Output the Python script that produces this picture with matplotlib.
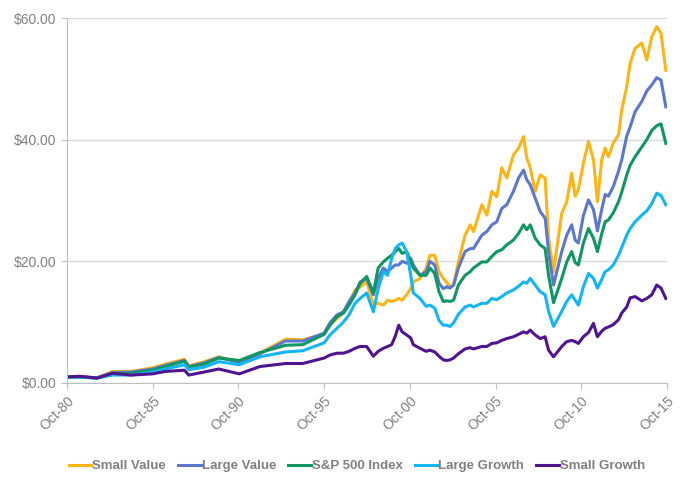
import matplotlib.pyplot as plt

# Data (growth of $1)
dates = [
    1980.75, 1981.5, 1982.5, 1983.4, 1984.5, 1985.75, 1986.5, 1987.6, 1987.85,
    1988.75, 1989.6, 1990.8, 1992.0, 1993.5, 1994.5, 1995.75,
    1996.09, 1996.5, 1996.87, 1997.2, 1997.55, 1997.85, 1998.23, 1998.62, 1998.9,
    1999.2, 1999.45, 1999.69, 1999.9, 2000.1, 2000.3, 2000.56, 2000.8, 2000.95,
    2001.34, 2001.7, 2001.92, 2002.2, 2002.45, 2002.7, 2002.9, 2003.09, 2003.3,
    2003.58, 2003.97, 2004.27, 2004.46, 2004.95, 2005.24, 2005.53, 2005.82, 2006.11,
    2006.4, 2006.79, 2007.09, 2007.38, 2007.57, 2007.77, 2008.06, 2008.35, 2008.64,
    2008.84, 2009.13,
    2009.61, 2009.9, 2010.19, 2010.39, 2010.58, 2010.87, 2011.17, 2011.46, 2011.69,
    2011.94, 2012.14, 2012.33, 2012.62, 2012.92, 2013.11, 2013.4, 2013.6, 2013.89,
    2014.28, 2014.57, 2014.86, 2015.15, 2015.4, 2015.68,
]
small_value = [
    1.0, 1.05, 0.85, 1.9, 1.9, 2.5, 3.1, 3.9, 2.8, 3.5, 4.3, 3.4, 4.9, 7.2, 7.1, 8.0,
    9.6, 10.6, 11.5, 13.1, 15.3, 15.8, 16.7, 12.8, 13.1, 12.8, 13.6, 13.4, 13.6,
    13.9, 13.6, 14.5, 15.5, 16.6, 17.2, 18.9, 21.0, 21.0, 18.3, 17.2, 16.5, 15.8, 16.1,
    19.9, 24.3, 26.0, 24.9, 29.3, 27.6, 31.5, 30.6, 35.4, 33.7, 37.5, 38.6, 40.5,
    37.0, 35.4, 31.5, 34.2, 33.7, 23.8, 18.3,
    27.9, 29.8, 34.5, 30.7, 31.8, 36.1, 39.7, 36.7, 29.8, 36.7, 38.6, 37.2, 39.5,
    40.8, 44.9, 48.7, 52.6, 55.0, 55.9, 53.1, 56.9, 58.6, 57.5, 51.4,
]
large_value = [
    1.0, 1.0, 0.85, 1.7, 1.8, 2.3, 2.9, 3.7, 2.7, 3.3, 4.2, 3.4, 4.8, 6.9, 6.9, 8.2,
    9.9, 11.2, 11.7, 13.4, 14.8, 16.6, 17.2, 14.5, 17.2, 18.9, 18.3, 18.9, 19.4,
    19.4, 20.0, 19.7, 20.5, 19.4, 17.7, 18.3, 20.0, 19.4, 16.4, 15.5, 15.8, 15.6, 16.1,
    18.9, 21.6, 22.1, 22.1, 24.3, 24.9, 26.0, 26.5, 28.7, 29.3, 31.5, 33.7, 35.0,
    33.4, 32.6, 30.4, 28.2, 27.1, 21.6, 16.1,
    21.6, 24.3, 26.0, 23.5, 23.0, 27.5, 30.1, 28.5, 25.0, 28.5, 31.0, 30.7, 32.3,
    34.8, 36.7, 40.6, 42.1, 44.6, 46.3, 48.0, 49.0, 50.2, 49.8, 45.4,
]
sp500 = [
    1.0, 0.95, 0.85, 1.5, 1.6, 2.1, 2.7, 3.6, 2.6, 3.1, 4.1, 3.7, 5.0, 6.2, 6.3, 8.0,
    9.5, 10.9, 11.5, 12.8, 14.5, 16.4, 17.5, 14.8, 18.9, 19.9, 20.5, 21.0, 21.6,
    22.1, 21.3, 21.6, 20.0, 18.9, 17.7, 17.7, 18.9, 18.0, 15.0, 13.4, 13.5, 13.4, 13.6,
    16.1, 17.7, 18.3, 18.9, 19.9, 19.9, 20.8, 21.6, 21.9, 22.7, 23.5, 24.6, 26.0,
    25.2, 26.0, 23.8, 22.7, 22.1, 17.7, 13.2,
    17.2, 19.9, 21.6, 19.8, 19.4, 23.0, 25.4, 23.8, 21.6, 24.5, 26.5, 26.8, 28.0,
    29.8, 31.4, 34.2, 35.8, 37.2, 38.8, 40.0, 41.5, 42.3, 42.6, 39.4,
]
large_growth = [
    1.0, 0.95, 0.8, 1.3, 1.3, 1.8, 2.3, 3.0, 2.2, 2.6, 3.5, 3.0, 4.3, 5.1, 5.3, 6.6,
    7.9, 9.0, 10.0, 11.2, 13.1, 13.9, 14.8, 11.7, 15.5, 18.3, 17.7, 20.5, 22.1,
    22.7, 23.0, 21.6, 17.7, 14.8, 13.9, 12.6, 12.8, 12.3, 10.3, 9.5, 9.5, 9.3, 9.9,
    11.3, 12.5, 12.8, 12.5, 13.1, 13.1, 13.9, 13.7, 14.2, 14.8, 15.3, 15.9, 16.6,
    16.4, 17.2, 16.1, 15.0, 14.5, 11.8, 9.3,
    11.8, 13.4, 14.5, 13.6, 12.8, 15.8, 18.0, 17.2, 15.6, 17.0, 18.3, 18.6, 19.4,
    21.0, 22.3, 24.3, 25.4, 26.5, 27.6, 28.3, 29.5, 31.2, 30.8, 29.3,
]
small_growth = [
    1.0, 1.1, 0.8, 1.6, 1.3, 1.5, 1.9, 2.1, 1.3, 1.8, 2.3, 1.5, 2.7, 3.2, 3.2, 4.1,
    4.6, 4.9, 4.9, 5.2, 5.7, 6.0, 6.0, 4.4, 5.2, 5.7, 6.0, 6.3, 7.7,
    9.5, 8.4, 7.9, 7.4, 6.3, 5.7, 5.2, 5.4, 5.1, 4.4, 3.8, 3.7, 3.8, 4.1,
    4.8, 5.6, 5.8, 5.6, 6.0, 6.0, 6.5, 6.6, 7.0, 7.3, 7.6, 8.0, 8.4,
    8.2, 8.7, 7.9, 7.3, 7.6, 5.4, 4.3,
    6.0, 6.8, 7.0, 6.8, 6.5, 7.6, 8.3, 9.8, 7.6, 8.5, 9.0, 9.2, 9.6,
    10.4, 11.5, 12.5, 14.0, 14.2, 13.5, 13.9, 14.5, 16.1, 15.6, 13.9,
]

labels = ["Small Value", "Large Value", "S&P 500 Index", "Large Growth", "Small Growth"]
colors = ["#FDB515", "#5B77CF", "#0E9760", "#12B5F5", "#4F1590"]
series = [small_value, large_value, sp500, large_growth, small_growth]

tick_pos = [1980.75 + 5 * i for i in range(8)]
tick_labels = ["Oct-80", "Oct-85", "Oct-90", "Oct-95", "Oct-00", "Oct-05", "Oct-10", "Oct-15"]

plt.rcParams["font.family"] = ["Liberation Sans", "DejaVu Sans"]
grey = "#808080"

fig = plt.figure(figsize=(6.93, 4.95), dpi=100)
ax = fig.add_axes([0.0967, 0.2263, 0.8658, 0.7373])

for vals, lab, col in zip(series, labels, colors):
    ax.plot(dates, vals, color=col, linewidth=2.2, label=lab)

ax.set_xlim(1980.75, 2015.75)
ax.set_ylim(0, 60)
ax.set_yticks([0, 20, 40, 60])
ax.set_yticklabels(["$0.00", "$20.00", "$40.00", "$60.00"])
ax.set_xticks(tick_pos)
ax.set_xticklabels(tick_labels, rotation=45, ha="right", rotation_mode="anchor")
ax.grid(axis="y", color="#D9D9D9", linewidth=1)
ax.set_axisbelow(True)

for side in ["top", "right"]:
    ax.spines[side].set_visible(False)
for side in ["left", "bottom"]:
    ax.spines[side].set_color("#BFBFBF")
ax.tick_params(colors="#BFBFBF", labelcolor=grey, labelsize=10, length=4)

fig.legend(loc="center", bbox_to_anchor=(0.515, 0.058), ncol=5, frameon=False,
           handlelength=1.7, handletextpad=0.1, columnspacing=0.9,
           prop={"weight": "bold", "size": 9.5}, labelcolor=grey)

fig.savefig("out.png", dpi=100)
